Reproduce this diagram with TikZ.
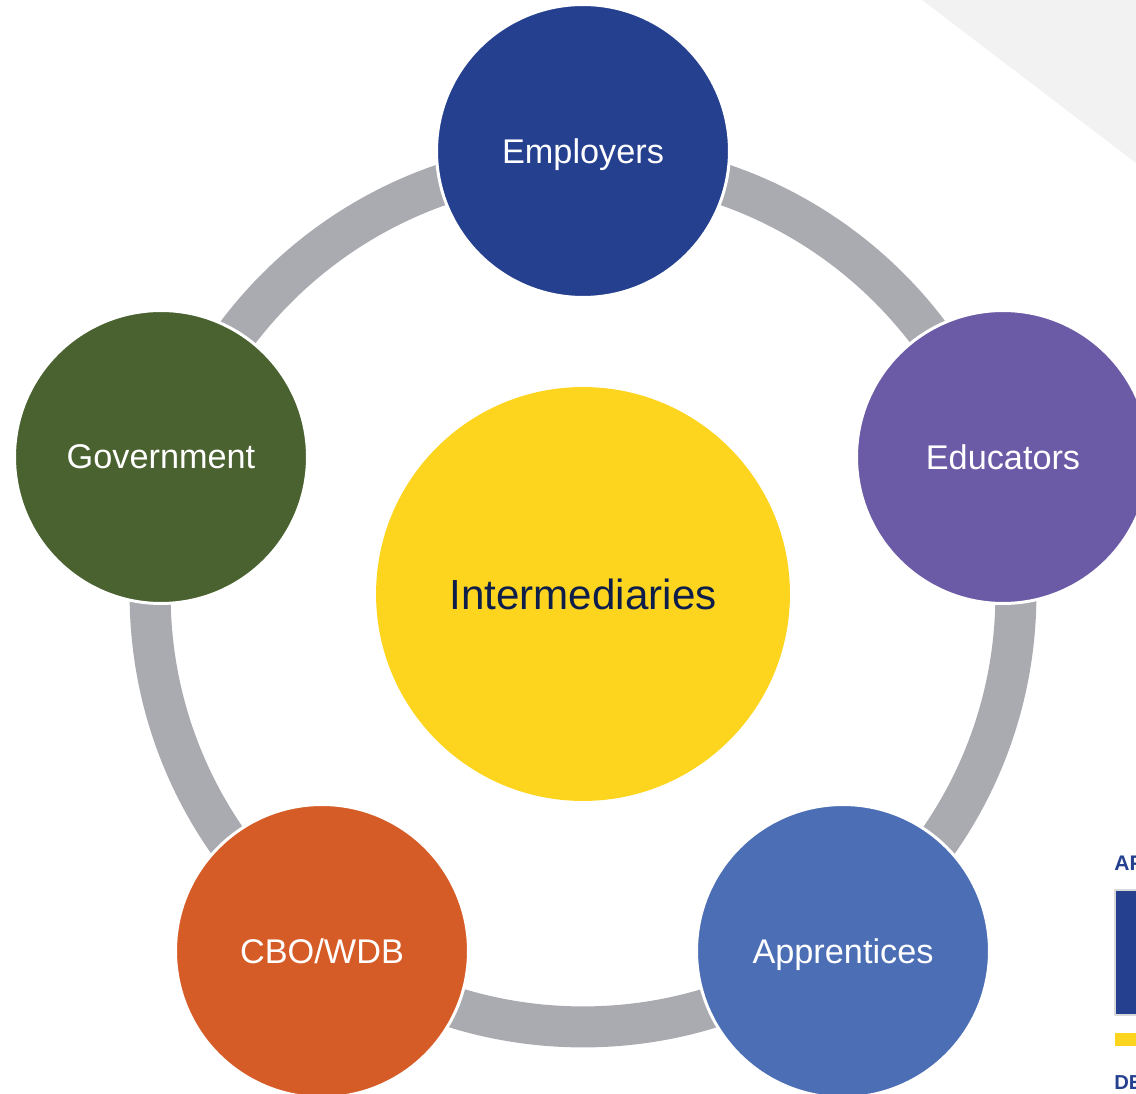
\documentclass[tikz,border=0pt]{standalone}
\usepackage{fontspec}
\setmainfont{Liberation Sans}
\definecolor{hubyellow}{HTML}{FDD41E}
\definecolor{hubtext}{HTML}{0D1E4A}
\definecolor{ringgray}{HTML}{AAABB1}
\definecolor{empblue}{HTML}{25408F}
\definecolor{edupurple}{HTML}{6B5AA5}
\definecolor{appblue}{HTML}{4C6EB5}
\definecolor{cboorange}{HTML}{D65C27}
\definecolor{govgreen}{HTML}{4A6130}
\definecolor{cornergray}{HTML}{F2F2F2}
\begin{document}
\begin{tikzpicture}[x=0.02cm, y=-0.02cm, line join=round, line cap=round,
	actor/.style={circle, draw=white, line width=1.7pt, minimum size=5.86cm, text depth=0pt, text=white, font=\fontsize{19.5}{23}\selectfont},
	hub/.style={circle, fill=hubyellow, minimum size=8.28cm, text=hubtext, font=\fontsize{24}{28}\selectfont},
	ring/.style={draw=ringgray, line width=0.82cm}]
		\def\W{1136} \def\H{1094}
		\useasboundingbox (0,0) rectangle (\W,\H);
		\clip (0,0) rectangle (\W,\H);
		\fill[cornergray] (922,0) -- (\W,0) -- (\W,163) -- cycle;
		% centre et anneau
		\node[hub] (inter) at (583,594) {Intermediaries};
		\draw[ring] (inter.center) circle[radius=8.66cm];
		\node[actor, fill=empblue] (emp) at (583,151) {Employers};
		\node[actor, fill=edupurple] (edu) at (1003,457) {Educators};
		\node[actor, fill=appblue] (app) at (843,951) {Apprentices};
		\node[actor, fill=cboorange] (cbo) at (322,951) {CBO/WDB};
		\node[actor, fill=govgreen] (gov) at (161,457) {Government};
		% bord droit
		\node[anchor=west, inner sep=0pt, text=empblue, font=\bfseries\fontsize{12}{14}\selectfont] (ap) at (1114,863) {AP};
		\draw[fill=empblue, draw=black!15, line width=0.6pt] (1115,890) rectangle (1140,1015);
		\fill[hubyellow] (1115,1033) rectangle (\W,1046);
		\node[anchor=west, inner sep=0pt, text=empblue, font=\bfseries\fontsize{11.5}{13}\selectfont] (de) at (1114,1083) {DE};
\end{tikzpicture}
\end{document}
